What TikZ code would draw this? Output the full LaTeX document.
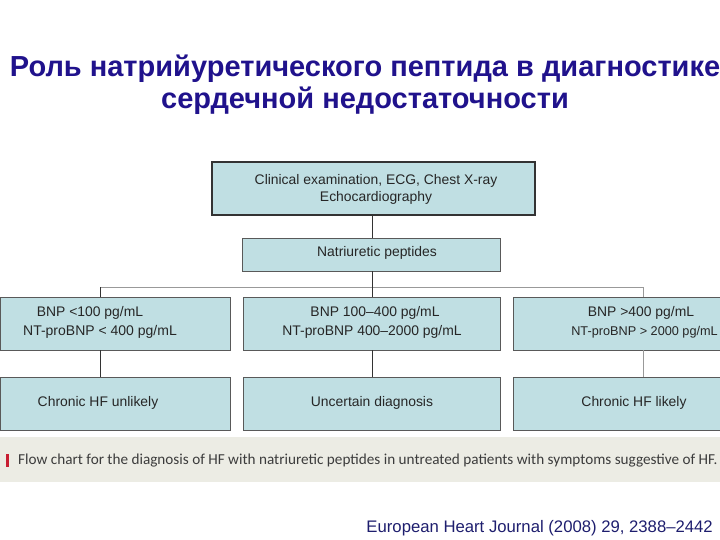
\documentclass[tikz,border=0pt]{standalone}
\usepackage{fontspec}
\setmainfont{Liberation Sans}
\newfontfamily\capfont{Carlito}
\definecolor{titleblue}{RGB}{32,18,140}
\definecolor{boxfill}{RGB}{192,223,227}
\definecolor{capbg}{RGB}{236,236,228}
\definecolor{captext}{RGB}{60,60,60}
\definecolor{capred}{RGB}{200,30,50}
\definecolor{footblue}{RGB}{30,30,110}
\begin{document}
\begin{tikzpicture}[x=1pt,y=-1pt,
  box/.style={draw=gray!70!black,line width=0.6pt,fill=boxfill,anchor=north west,inner sep=0pt,outer sep=0pt},
  topbox/.style={box,draw=black!80,line width=1.6pt},
  btxt/.style={font=\fontsize{13.9}{17}\selectfont,text=black!85,inner sep=0pt},
  conn/.style={draw=black!80,line width=0.8pt},
  gconn/.style={draw=gray!80,line width=0.8pt}]
\useasboundingbox (0,0) rectangle (720,540);
% title
\node[font=\fontsize{29}{32}\selectfont\bfseries,text=titleblue,align=center] (title) at (365,85)
 {Роль натрийуретического пептида в диагностике\\сердечной недостаточности};
% boxes
\node[topbox,minimum width=323pt,minimum height=53pt] (top) at (212,162) {};
\node[box,minimum width=258pt,minimum height=33pt] (np) at (242,238) {};
\node[box,minimum width=230pt,minimum height=53pt] (l2) at (0,297) {};
\node[box,minimum width=257pt,minimum height=53pt] (m2) at (243,297) {};
\node[box,minimum width=210pt,minimum height=53pt] (r2) at (513,297) {};
\node[box,minimum width=230pt,minimum height=53pt] (l3) at (0,377) {};
\node[box,minimum width=257pt,minimum height=53pt] (m3) at (243,377) {};
\node[box,minimum width=210pt,minimum height=53pt] (r3) at (513,377) {};
% texts
\node[btxt,align=center] (t1) at (376,189) {Clinical examination, ECG, Chest X-ray\\Echocardiography};
\node[btxt] (t2) at (377,253) {Natriuretic peptides};
\node[btxt] (l2a) at (90,313) {BNP <100 pg/mL};
\node[btxt,font=\fontsize{14}{16}\selectfont] (l2b) at (100,332) {NT-proBNP < 400 pg/mL};
\node[btxt] (m2a) at (375,313) {BNP 100–400 pg/mL};
\node[btxt] (m2b) at (372,332) {NT-proBNP 400–2000 pg/mL};
\node[btxt] (r2a) at (641,313) {BNP >400 pg/mL};
\node[btxt,anchor=east,font=\fontsize{12.7}{15}\selectfont] (r2b) at (718,332) {NT-proBNP > 2000 pg/mL};
\node[btxt] (l3a) at (98,403) {Chronic HF unlikely};
\node[btxt] (m3a) at (372,403) {Uncertain diagnosis};
\node[btxt] (r3a) at (634,403) {Chronic HF likely};
% connectors
\coordinate (jl) at (100,287);
\coordinate (jm) at (372,287);
\coordinate (jr) at (643,287);
\draw[conn] (372,215) -- (372,238);
\draw[conn] (372,271) -- (jm);
\draw[gconn] (jl) -- (jr);
\draw[conn] (jl) -- (100,297);
\draw[conn] (jm) -- (372,297);
\draw[gconn] (jr) -- (643,297);
\draw[conn] (100,350) -- (100,377);
\draw[conn] (372,350) -- (372,377);
\draw[gconn] (643,350) -- (643,377);
% caption band
\fill[capbg] (0,437) rectangle (720,482);
\fill[capred] (6,454) rectangle (9,467);
\node[anchor=west,font=\capfont\fontsize{15.2}{17}\selectfont,text=captext,inner sep=0pt] (cap) at (18,461)
 {Flow chart for the diagnosis of HF with natriuretic peptides in untreated patients with symptoms suggestive of HF.};
% footer
\node[anchor=east,font=\fontsize{16.7}{19}\selectfont,text=footblue,inner sep=0pt] (foot) at (713,528)
 {European Heart Journal (2008) 29, 2388–2442};
\end{tikzpicture}
\end{document}
